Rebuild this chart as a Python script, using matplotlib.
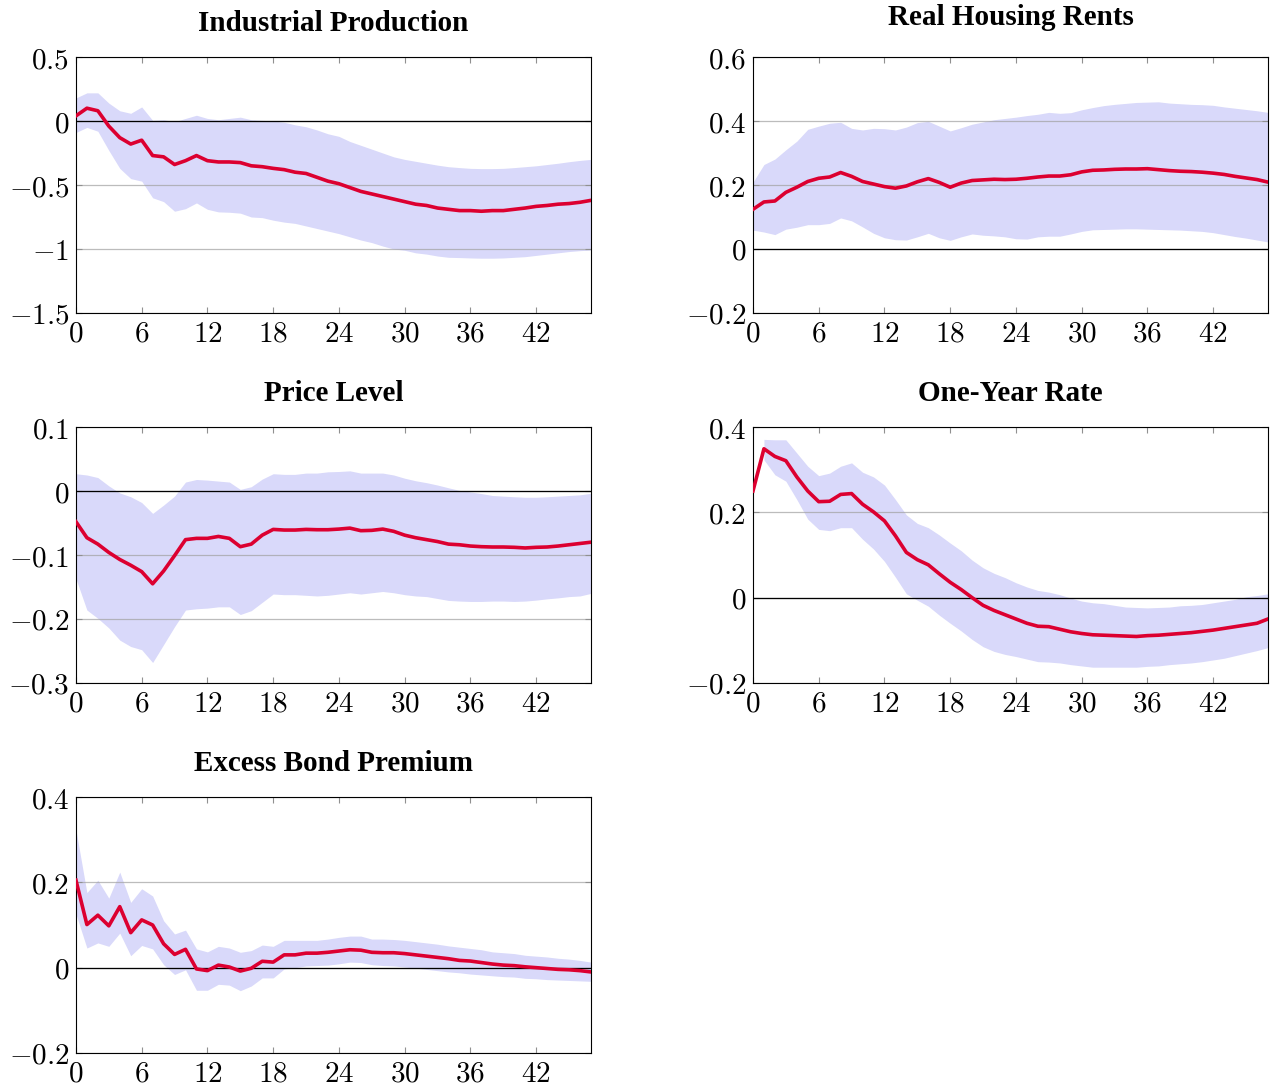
import matplotlib.pyplot as plt
import numpy as np

plt.rcParams['mathtext.fontset'] = 'cm'

months = np.arange(48)

# Industrial Production
ip_mid = [0.04, 0.10, 0.08, -0.04, -0.13, -0.18, -0.15, -0.27, -0.28, -0.34, -0.31, -0.27,
          -0.31, -0.32, -0.32, -0.325, -0.35, -0.357, -0.37, -0.38, -0.40, -0.41, -0.44, -0.47,
          -0.49, -0.52, -0.55, -0.57, -0.59, -0.61, -0.63, -0.65, -0.66, -0.68, -0.69, -0.70,
          -0.70, -0.705, -0.70, -0.70, -0.69, -0.68, -0.667, -0.66, -0.65, -0.645, -0.635, -0.62]
ip_hi = [0.18, 0.22, 0.22, 0.14, 0.08, 0.06, 0.11, 0.005, 0.01, -0.005, 0.02, 0.045,
         0.02, 0.01, 0.02, 0.03, 0.01, 0.005, 0.0, -0.01, -0.03, -0.045, -0.07, -0.10,
         -0.12, -0.16, -0.19, -0.22, -0.25, -0.28, -0.30, -0.315, -0.33, -0.345, -0.357, -0.364,
         -0.37, -0.372, -0.372, -0.37, -0.364, -0.357, -0.35, -0.34, -0.33, -0.318, -0.308, -0.30]
ip_lo = [-0.09, -0.05, -0.08, -0.23, -0.37, -0.45, -0.47, -0.60, -0.63, -0.705, -0.685, -0.64,
         -0.69, -0.71, -0.713, -0.72, -0.75, -0.755, -0.775, -0.79, -0.80, -0.82, -0.84, -0.86,
         -0.88, -0.905, -0.93, -0.95, -0.977, -1.0, -1.01, -1.03, -1.04, -1.055, -1.065, -1.067,
         -1.07, -1.072, -1.072, -1.07, -1.065, -1.06, -1.05, -1.04, -1.03, -1.02, -1.013, -1.008]

# Real Housing Rents
rhr_mid = [0.124, 0.147, 0.150, 0.177, 0.193, 0.211, 0.221, 0.225, 0.239, 0.227, 0.211, 0.203,
           0.195, 0.19, 0.197, 0.21, 0.22, 0.208, 0.193, 0.206, 0.214, 0.216, 0.218, 0.217,
           0.218, 0.221, 0.225, 0.228, 0.228, 0.232, 0.241, 0.246, 0.247, 0.249, 0.25, 0.25,
           0.251, 0.248, 0.245, 0.243, 0.242, 0.24, 0.237, 0.233, 0.227, 0.222, 0.217, 0.209]
rhr_hi = [0.209, 0.264, 0.281, 0.31, 0.337, 0.374, 0.384, 0.393, 0.396, 0.377, 0.372, 0.377,
          0.376, 0.372, 0.381, 0.395, 0.399, 0.384, 0.369, 0.379, 0.39, 0.397, 0.404, 0.408,
          0.412, 0.417, 0.421, 0.427, 0.424, 0.426, 0.435, 0.442, 0.448, 0.452, 0.455, 0.458,
          0.459, 0.46, 0.456, 0.454, 0.452, 0.451, 0.449, 0.444, 0.44, 0.436, 0.432, 0.427]
rhr_lo = [0.059, 0.053, 0.045, 0.062, 0.068, 0.076, 0.076, 0.08, 0.097, 0.088, 0.069, 0.049,
          0.035, 0.029, 0.028, 0.038, 0.049, 0.035, 0.027, 0.038, 0.047, 0.043, 0.041, 0.038,
          0.032, 0.031, 0.038, 0.04, 0.04, 0.047, 0.055, 0.06, 0.061, 0.062, 0.063, 0.063,
          0.062, 0.061, 0.06, 0.059, 0.057, 0.055, 0.051, 0.045, 0.039, 0.034, 0.028, 0.022]

# Price Level
pl_mid = [-0.048, -0.073, -0.083, -0.096, -0.107, -0.116, -0.126, -0.145, -0.125, -0.101, -0.076, -0.074,
          -0.074, -0.071, -0.074, -0.087, -0.083, -0.069, -0.06, -0.061, -0.061, -0.06, -0.0605, -0.0605,
          -0.0595, -0.058, -0.062, -0.0615, -0.0595, -0.063, -0.069, -0.073, -0.076, -0.079, -0.083, -0.084,
          -0.086, -0.087, -0.0875, -0.0875, -0.088, -0.089, -0.088, -0.0875, -0.086, -0.084, -0.082, -0.08]
pl_hi = [0.027, 0.025, 0.021, 0.008, -0.003, -0.009, -0.018, -0.035, -0.022, -0.008, 0.014, 0.018,
         0.017, 0.0155, 0.014, 0.0025, 0.0067, 0.0186, 0.027, 0.026, 0.026, 0.028, 0.028, 0.03,
         0.0305, 0.0315, 0.028, 0.028, 0.028, 0.025, 0.02, 0.016, 0.013, 0.0093, 0.005, 0.001,
         -0.0015, -0.004, -0.007, -0.008, -0.009, -0.0098, -0.0098, -0.009, -0.008, -0.007, -0.006, -0.0036]
pl_lo = [-0.137, -0.186, -0.199, -0.214, -0.233, -0.243, -0.248, -0.268, -0.24, -0.212, -0.186, -0.184,
         -0.183, -0.181, -0.181, -0.193, -0.187, -0.174, -0.161, -0.162, -0.162, -0.163, -0.164, -0.163,
         -0.161, -0.159, -0.161, -0.159, -0.157, -0.159, -0.162, -0.164, -0.165, -0.168, -0.171, -0.172,
         -0.1726, -0.1726, -0.172, -0.172, -0.1726, -0.172, -0.1705, -0.1685, -0.167, -0.165, -0.164, -0.16]

# One-Year Rate (no band at horizon 0)
oyr_mid = [0.25, 0.349, 0.331, 0.321, 0.283, 0.25, 0.225, 0.226, 0.242, 0.244, 0.219, 0.201,
           0.18, 0.145, 0.106, 0.089, 0.077, 0.056, 0.036, 0.019, 0.0, -0.018, -0.03, -0.04,
           -0.05, -0.06, -0.067, -0.068, -0.074, -0.08, -0.084, -0.087, -0.088, -0.089, -0.09, -0.091,
           -0.089, -0.088, -0.086, -0.084, -0.082, -0.079, -0.076, -0.072, -0.068, -0.064, -0.06, -0.05]
oyr_hi = [np.nan, 0.371, 0.37, 0.37, 0.339, 0.308, 0.286, 0.292, 0.308, 0.316, 0.294, 0.283,
          0.264, 0.23, 0.194, 0.174, 0.164, 0.147, 0.128, 0.11, 0.088, 0.07, 0.057, 0.047,
          0.035, 0.025, 0.017, 0.013, 0.007, -0.001, -0.008, -0.012, -0.014, -0.018, -0.022, -0.023,
          -0.024, -0.023, -0.022, -0.019, -0.018, -0.016, -0.012, -0.008, -0.004, 0.002, 0.005, 0.009]
oyr_lo = [np.nan, 0.323, 0.288, 0.273, 0.23, 0.184, 0.16, 0.157, 0.164, 0.164, 0.137, 0.114,
          0.085, 0.048, 0.009, -0.006, -0.02, -0.041, -0.06, -0.078, -0.098, -0.115, -0.126, -0.133,
          -0.138, -0.144, -0.15, -0.151, -0.153, -0.157, -0.16, -0.163, -0.163, -0.163, -0.163, -0.163,
          -0.161, -0.16, -0.157, -0.155, -0.153, -0.15, -0.146, -0.142, -0.136, -0.13, -0.124, -0.117]

# Excess Bond Premium
ebp_mid = [0.205, 0.101, 0.123, 0.098, 0.143, 0.082, 0.112, 0.1, 0.056, 0.031, 0.043, -0.003,
           -0.007, 0.006, 0.0015, -0.008, -0.0015, 0.015, 0.013, 0.03, 0.03, 0.034, 0.034, 0.036,
           0.039, 0.042, 0.041, 0.036, 0.035, 0.035, 0.033, 0.03, 0.027, 0.024, 0.021, 0.017,
           0.0155, 0.012, 0.0085, 0.006, 0.0047, 0.002, 0.0, -0.002, -0.004, -0.005, -0.007, -0.01]
ebp_hi = [0.323, 0.176, 0.205, 0.163, 0.224, 0.153, 0.185, 0.168, 0.11, 0.079, 0.088, 0.044,
          0.037, 0.05, 0.046, 0.036, 0.04, 0.053, 0.05, 0.064, 0.064, 0.064, 0.064, 0.067,
          0.071, 0.074, 0.074, 0.067, 0.067, 0.066, 0.064, 0.061, 0.058, 0.055, 0.051, 0.048,
          0.045, 0.042, 0.037, 0.035, 0.033, 0.029, 0.027, 0.025, 0.022, 0.02, 0.017, 0.013]
ebp_lo = [0.126, 0.046, 0.058, 0.05, 0.081, 0.028, 0.052, 0.044, 0.007, -0.016, -0.005, -0.053,
          -0.053, -0.039, -0.041, -0.054, -0.043, -0.024, -0.024, -0.003, 0.0, 0.004, 0.005, 0.006,
          0.009, 0.013, 0.012, 0.007, 0.005, 0.004, 0.0015, -0.001, -0.004, -0.007, -0.01, -0.012,
          -0.015, -0.017, -0.019, -0.021, -0.022, -0.025, -0.026, -0.028, -0.029, -0.03, -0.031, -0.032]

titles = ['Industrial Production', 'Real Housing Rents', 'Price Level',
          'One-Year Rate', 'Excess Bond Premium']
mids = [ip_mid, rhr_mid, pl_mid, oyr_mid, ebp_mid]
his = [ip_hi, rhr_hi, pl_hi, oyr_hi, ebp_hi]
los = [ip_lo, rhr_lo, pl_lo, oyr_lo, ebp_lo]
yticks = [[-1.5, -1, -0.5, 0, 0.5],
          [-0.2, 0, 0.2, 0.4, 0.6],
          [-0.3, -0.2, -0.1, 0, 0.1],
          [-0.2, 0, 0.2, 0.4],
          [-0.2, 0, 0.2, 0.4]]
ytick_labels = [['-1.5', '-1', '-0.5', '0', '0.5'],
                ['-0.2', '0', '0.2', '0.4', '0.6'],
                ['-0.3', '-0.2', '-0.1', '0', '0.1'],
                ['-0.2', '0', '0.2', '0.4'],
                ['-0.2', '0', '0.2', '0.4']]
xticks = [0, 6, 12, 18, 24, 30, 36, 42]

band_color = '#d9d9fa'
line_color = '#dc0030'

fig = plt.figure(figsize=(12.7, 10.86), dpi=100)
lefts = [0.0598, 0.5929]
bottoms = [0.7118, 0.3711, 0.0304]
w, h = 0.4055, 0.2357
title_pads = [18.5, 23, 18.5, 18.5, 18.5]

for i in range(5):
    ax = fig.add_axes([lefts[i % 2], bottoms[i // 2], w, h])
    ax.fill_between(months, los[i], his[i], color=band_color, lw=0, zorder=0.3)
    ax.set_axisbelow(True)
    ax.yaxis.grid(True, color='#a0a0a0', lw=0.9, alpha=0.7)
    ax.axhline(0, color='black', lw=0.9, zorder=0.6)
    ax.plot(months, mids[i], color=line_color, lw=2.6, zorder=3)
    ax.set_xlim(0, 47)
    ax.set_ylim(yticks[i][0], yticks[i][-1])
    ax.set_xticks(xticks)
    ax.set_xticklabels(['$%d$' % t for t in xticks])
    ax.set_yticks(yticks[i])
    ax.set_yticklabels(['$' + s + '$' for s in ytick_labels[i]])
    ax.tick_params(direction='in', top=True, right=True, length=4.5, width=0.8,
                   color='#909090', labelsize=21, pad=5)
    for s in ax.spines.values():
        s.set_linewidth(0.8)
    ax.set_title(titles[i], fontfamily='Liberation Serif', fontweight='bold',
                 fontsize=21, pad=title_pads[i])

plt.savefig('out.png', dpi=100)
